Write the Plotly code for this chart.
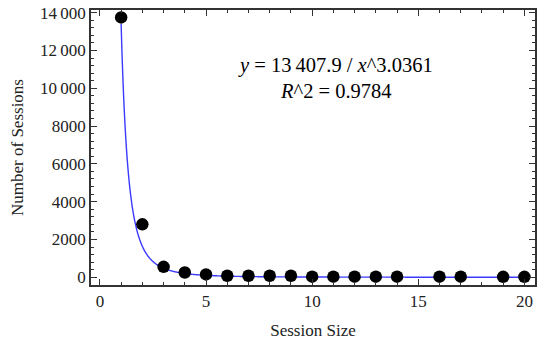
import numpy as np
import plotly.graph_objects as go

# Data
session_size = [1, 2, 3, 4, 5, 6, 7, 8, 9, 10, 11, 12, 13, 14, 16, 17, 19, 20]
num_sessions = [13750, 2800, 550, 250, 150, 80, 80, 80, 80, 30, 30, 30, 30, 30, 30, 30, 20, 20]

# Fitted model parameters (from the chart's equation)
fit_a = 13407.9
fit_b = 3.0361
r_squared = 0.9784

y_tick_vals = [0, 2000, 4000, 6000, 8000, 10000, 12000, 14000]
y_tick_text = ["0", "2000", "4000", "6000", "8000", "10\u2009000", "12\u2009000", "14\u2009000"]
x_tick_vals = [0, 5, 10, 15, 20]

xf = np.linspace(1.0, 20.3, 800)
yf = fit_a / xf ** fit_b

font = "Liberation Serif"
frame = "#333333"
txt = "#222222"

fig = go.Figure()
fig.add_trace(go.Scatter(x=xf, y=yf, mode="lines",
                         line=dict(color="#3b3bff", width=1.4, shape="spline"), hoverinfo="skip"))
fig.add_trace(go.Scatter(x=session_size, y=num_sessions, mode="markers",
                         marker=dict(color="black", size=12.5)))

fig.add_annotation(x=0.551, y=0.847, xref="paper", yref="paper", showarrow=False,
                   text=f"<i>y</i> = 13\u2009407.9 / <i>x</i>^{fit_b}",
                   font=dict(family=font, size=20.5, color="black"))
fig.add_annotation(x=0.551, y=0.752, xref="paper", yref="paper", showarrow=False,
                   text=f"<i>R</i>^2 = {r_squared}",
                   font=dict(family=font, size=20.5, color="black"))

axis_common = dict(showline=True, linecolor=frame, linewidth=1.5, mirror="allticks",
                   ticks="inside", tickcolor=frame, showgrid=False, zeroline=False,
                   automargin=False,
                   tickfont=dict(family=font, size=17, color=txt))

fig.update_xaxes(**axis_common, range=[-0.42, 20.5], tickvals=x_tick_vals, ticklen=6,
                 minor=dict(ticks="inside", dtick=1, ticklen=3, tickcolor=frame),
                 title=dict(text="Session Size", font=dict(family=font, size=17, color=txt), standoff=14))
fig.update_yaxes(**axis_common, range=[-410, 14143], tickvals=y_tick_vals, ticktext=y_tick_text,
                 ticklen=6,
                 minor=dict(ticks="inside", dtick=400, ticklen=3, tickcolor=frame),
                 title=dict(text="Number of Sessions", font=dict(family=font, size=17, color=txt), standoff=12))

fig.update_layout(width=537, height=343, showlegend=False,
                  plot_bgcolor="white", paper_bgcolor="white",
                  margin=dict(l=91, r=2, t=10, b=58))

fig.write_html("out.html", config={"displayModeBar": False},
               post_script="document.body.style.margin='0';document.body.style.overflow='hidden';")
